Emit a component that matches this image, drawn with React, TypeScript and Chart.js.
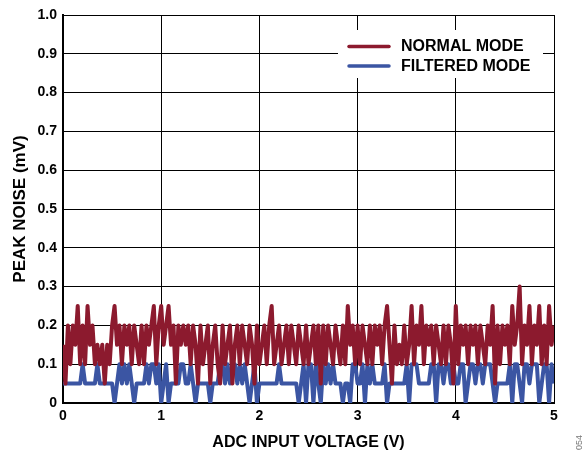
import React, { useEffect, useRef } from "react";
import { Chart, registerables } from "chart.js";

Chart.register(...registerables);

// ADC input voltage sweep: samples every 0.025 V from 0 V to 5 V
const VOLT_START = 0;
const VOLT_STEP = 0.025;

// Peak noise (mV), normal mode
const normalMode: number[] = [
  0.15, 0.05, 0.2, 0.1, 0.2, 0.15, 0.25, 0.1,
  0.2, 0.1, 0.25, 0.15, 0.2, 0.1, 0.15, 0.1,
  0.15, 0.05, 0.15, 0.1, 0.2, 0.25, 0.15, 0.2,
  0.1, 0.2, 0.15, 0.2, 0.1, 0.2, 0.15, 0.1,
  0.2, 0.1, 0.2, 0.15, 0.2, 0.25, 0.1, 0.2,
  0.25, 0.15, 0.2, 0.25, 0.15, 0.2, 0.05, 0.2,
  0.15, 0.2, 0.15, 0.2, 0.1, 0.2, 0.15, 0.05,
  0.2, 0.1, 0.15, 0.2, 0.05, 0.15, 0.2, 0.1,
  0.05, 0.2, 0.1, 0.15, 0.2, 0.05, 0.15, 0.2,
  0.1, 0.2, 0.15, 0.1, 0.2, 0.15, 0.05, 0.2,
  0.1, 0.15, 0.2, 0.1, 0.2, 0.25, 0.1, 0.15,
  0.2, 0.1, 0.15, 0.2, 0.1, 0.2, 0.15, 0.1,
  0.2, 0.15, 0.1, 0.2, 0.1, 0.15, 0.2, 0.1,
  0.2, 0.05, 0.2, 0.1, 0.2, 0.15, 0.1, 0.2,
  0.15, 0.1, 0.2, 0.1, 0.25, 0.15, 0.2, 0.1,
  0.2, 0.1, 0.2, 0.15, 0.1, 0.2, 0.1, 0.2,
  0.15, 0.2, 0.1, 0.2, 0.25, 0.15, 0.05, 0.2,
  0.1, 0.15, 0.1, 0.2, 0.1, 0.15, 0.25, 0.1,
  0.2, 0.15, 0.25, 0.1, 0.2, 0.15, 0.2, 0.1,
  0.2, 0.15, 0.1, 0.2, 0.1, 0.2, 0.15, 0.05,
  0.25, 0.1, 0.2, 0.15, 0.2, 0.1, 0.2, 0.15,
  0.2, 0.1, 0.2, 0.15, 0.1, 0.2, 0.15, 0.25,
  0.05, 0.2, 0.1, 0.2, 0.15, 0.2, 0.1, 0.25,
  0.15, 0.2, 0.3, 0.1, 0.2, 0.15, 0.25, 0.1,
  0.2, 0.15, 0.25, 0.1, 0.2, 0.1, 0.25, 0.15,
  0.2,
];

// Peak noise (mV), filtered mode
const filteredMode: number[] = [
  0.05, 0.05, 0.05, 0.05, 0.05, 0.05, 0.05, 0.05, 0.1, 0.05,
  0.05, 0.05, 0.05, 0.05, 0.1, 0.05, 0.05, 0.05, 0.05, 0.05,
  0.05, 0, 0.05, 0.1, 0.05, 0.1, 0.05, 0.1, 0.05, 0,
  0.05, 0.05, 0.05, 0.05, 0.1, 0.05, 0.1, 0.1, 0.05, 0.1,
  0, 0.05, 0.1, 0, 0.05, 0.05, 0.05, 0.05, 0.1, 0.1,
  0.05, 0.05, 0.1, 0.05, 0, 0.05, 0.05, 0.05, 0.05, 0.05,
  0, 0.05, 0.05, 0.05, 0.1, 0.1, 0.05, 0.1, 0.05, 0.1,
  0.1, 0.05, 0.1, 0.05, 0.1, 0.05, 0, 0.05, 0.1, 0,
  0.05, 0.05, 0.05, 0.05, 0.05, 0.05, 0.05, 0.05, 0.1, 0.05,
  0.05, 0.05, 0.05, 0.05, 0.05, 0.05, 0, 0.05, 0.1, 0,
  0.1, 0.1, 0, 0.1, 0.05, 0, 0.1, 0.05, 0.1, 0.05,
  0.1, 0.05, 0.05, 0.05, 0, 0.05, 0.05, 0, 0.1, 0.1,
  0.05, 0.05, 0.1, 0, 0.1, 0.05, 0.1, 0.05, 0.05, 0.05,
  0.05, 0.1, 0, 0.05, 0.05, 0.05, 0.05, 0.05, 0.05, 0.05,
  0.1, 0, 0.1, 0.1, 0.1, 0.05, 0.05, 0.05, 0.05, 0.05,
  0.1, 0.1, 0, 0.1, 0.1, 0.05, 0.1, 0.1, 0.05, 0.1,
  0.05, 0.05, 0.1, 0.1, 0, 0.05, 0.1, 0.1, 0.05, 0.1,
  0.1, 0.05, 0.1, 0.1, 0.1, 0.05, 0, 0.05, 0.05, 0.05,
  0.05, 0.05, 0.1, 0, 0.1, 0.1, 0.05, 0, 0.1, 0.1,
  0.05, 0.1, 0.1, 0.1, 0, 0.05, 0.1, 0.1, 0, 0.1,
  0.05,
];

const seriesNames = ["NORMAL MODE", "FILTERED MODE"];
const seriesColors = ["#8c1a2e", "#3b55a3"];

const xTicks = [0, 1, 2, 3, 4, 5];
const yTicks = [0, 0.1, 0.2, 0.3, 0.4, 0.5, 0.6, 0.7, 0.8, 0.9, 1.0];

const xTitle = "ADC INPUT VOLTAGE (V)";
const yTitle = "PEAK NOISE (mV)";
const figureId = "054";

const FONT = "'Liberation Sans', Arial, Helvetica, sans-serif";

function toPoints(values: number[]) {
  return values.map((v, i) => ({ x: VOLT_START + i * VOLT_STEP, y: v }));
}

const legendPlugin = {
  id: "boxLegend",
  afterDraw(chart: any) {
    const ctx = chart.ctx as CanvasRenderingContext2D;
    ctx.save();
    ctx.fillStyle = "#ffffff";
    ctx.fillRect(338, 30, 205, 48);
    const rows = [46.5, 66];
    ctx.font = `bold 16px ${FONT}`;
    ctx.textBaseline = "middle";
    ctx.textAlign = "left";
    seriesNames.forEach((name, i) => {
      ctx.strokeStyle = seriesColors[i];
      ctx.lineWidth = 3.5;
      ctx.lineCap = "round";
      ctx.beginPath();
      ctx.moveTo(349, rows[i]);
      ctx.lineTo(389, rows[i]);
      ctx.stroke();
      ctx.fillStyle = "#000";
      ctx.fillText(name, 401, rows[i] + 0.5);
    });
    // figure id at the right edge
    ctx.translate(580, 452);
    ctx.rotate(-Math.PI / 2);
    ctx.font = `9px ${FONT}`;
    ctx.fillStyle = "#777";
    ctx.textAlign = "left";
    ctx.textBaseline = "middle";
    ctx.fillText(figureId, 2, 0);
    ctx.restore();
  },
};

export default function App() {
  const ref = useRef<HTMLCanvasElement | null>(null);

  useEffect(() => {
    if (!ref.current) return;
    const chart = new Chart(ref.current, {
      type: "line",
      data: {
        datasets: [
          {
            label: seriesNames[0],
            data: toPoints(normalMode),
            borderColor: seriesColors[0],
            backgroundColor: seriesColors[0],
            borderWidth: 4,
            borderJoinStyle: "round",
            pointRadius: 0,
            tension: 0,
          },
          {
            label: seriesNames[1],
            data: toPoints(filteredMode),
            borderColor: seriesColors[1],
            backgroundColor: seriesColors[1],
            borderWidth: 4,
            borderJoinStyle: "round",
            pointRadius: 0,
            tension: 0,
          },
        ],
      },
      options: {
        responsive: false,
        devicePixelRatio: 1,
        animation: false,
        layout: { padding: { top: 15, right: 31, left: 10, bottom: 0 } },
        plugins: {
          legend: { display: false },
          tooltip: { enabled: false },
        },
        scales: {
          x: {
            type: "linear",
            min: 0,
            max: 5,
            afterBuildTicks(scale: any) {
              scale.ticks = xTicks.map((v) => ({ value: v }));
            },
            afterFit(scale: any) {
              scale.height = 49;
            },
            ticks: {
              color: "#000",
              font: { family: FONT, size: 14, weight: "bold" },
              padding: 5,
              maxRotation: 0,
              callback: (v: any) => String(v),
            },
            grid: { color: "#000", lineWidth: 1, drawTicks: false },
            border: { color: "#000", width: 2 },
            title: {
              display: true,
              text: xTitle,
              color: "#000",
              font: { family: FONT, size: 16, weight: "bold" },
              padding: { top: 0, bottom: 0 },
            },
          },
          y: {
            type: "linear",
            min: 0,
            max: 1,
            afterBuildTicks(scale: any) {
              scale.ticks = yTicks.map((v) => ({ value: v }));
            },
            afterFit(scale: any) {
              scale.width = 53;
            },
            ticks: {
              color: "#000",
              font: { family: FONT, size: 14, weight: "bold" },
              padding: 6,
              callback: (v: any) => (v === 0 ? "0" : Number(v).toFixed(1)),
            },
            grid: { color: "#000", lineWidth: 1, drawTicks: false },
            border: { color: "#000", width: 2 },
            title: {
              display: true,
              text: yTitle,
              color: "#000",
              font: { family: FONT, size: 17, weight: "bold" },
              padding: { top: 0, bottom: 4 },
            },
          },
        },
      },
      plugins: [legendPlugin],
    });
    return () => chart.destroy();
  }, []);

  return (
    <div style={{ position: "fixed", left: 0, top: 0, width: 585, height: 452, background: "#fff" }}>
      <canvas ref={ref} width={585} height={452} style={{ width: 585, height: 452 }} />
    </div>
  );
}
